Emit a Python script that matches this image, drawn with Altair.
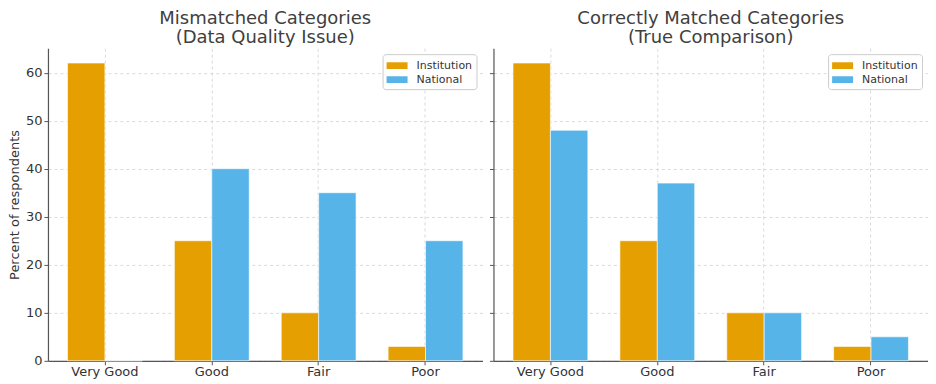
import altair as alt
import pandas as pd

categories = ["Very Good", "Good", "Fair", "Poor"]
series = ["Institution", "National"]
mismatched_institution = [62, 25, 10, 3]
mismatched_national = [0, 40, 35, 25]
matched_institution = [62, 25, 10, 3]
matched_national = [48, 37, 10, 5]

def make_df(inst, nat):
    rows = []
    for c, a, b in zip(categories, inst, nat):
        rows.append({"category": c, "series": "Institution", "value": a})
        rows.append({"category": c, "series": "National", "value": b})
    return pd.DataFrame(rows)

df_left = make_df(mismatched_institution, mismatched_national)
df_right = make_df(matched_institution, matched_national)

FONT = "DejaVu Sans"
TXT = "#333333"
color_scale = alt.Scale(domain=series, range=["#E69F00", "#56B4E9"])

def panel(df, title, show_labels):
    y_axis = alt.Axis(
        values=[0, 10, 20, 30, 40, 50, 60],
        title="Percent of respondents" if show_labels else None,
        labels=show_labels,
        grid=True, gridDash=[3, 3], gridColor="#d0d0d0", gridWidth=0.8,
        domainColor="#555555", domainWidth=1.2,
        tickColor="#555555", tickSize=4,
        labelFont=FONT, labelFontSize=13, labelColor=TXT, labelPadding=2,
        titleFont=FONT, titleFontSize=13, titleFontWeight="normal", titleColor=TXT,
        titlePadding=4,
    )
    x_axis = alt.Axis(
        title=None, labelAngle=0, bandPosition=0.5,
        grid=True, gridDash=[3, 3], gridColor="#d0d0d0", gridWidth=0.8,
        domainColor="#555555", domainWidth=1.2,
        tickColor="#555555", tickSize=4,
        labelFont=FONT, labelFontSize=13, labelColor=TXT, labelPadding=1,
    )
    return alt.Chart(df).mark_bar(stroke="white", strokeWidth=0.6).encode(
        x=alt.X("category:N", sort=categories, axis=x_axis,
                scale=alt.Scale(paddingInner=0.3, paddingOuter=0.183)),
        xOffset=alt.XOffset("series:N", sort=series, scale=alt.Scale(paddingInner=0, paddingOuter=0)),
        y=alt.Y("value:Q", axis=y_axis, scale=alt.Scale(domain=[0, 65.1], nice=False)),
        color=alt.Color("series:N", scale=color_scale, sort=series,
                        legend=alt.Legend(
                            title=None, orient="top-right", offset=6,
                            symbolType="M-1,-0.45L1.8,-0.45L1.8,0.45L-1,0.45Z",
                            symbolSize=225, symbolStrokeWidth=0,
                            labelFont=FONT, labelFontSize=11, labelColor=TXT,
                            strokeColor="#cccccc", fillColor="white",
                            cornerRadius=3, padding=4, rowPadding=1,
                            labelOffset=15,
                        )),
    ).properties(
        width=435, height=313,
        title=alt.TitleParams(text=title, font=FONT, fontSize=18, fontWeight="normal",
                              color="#404040", lineHeight=19, offset=1, anchor="middle"),
    )

left = panel(df_left, ["Mismatched Categories", "(Data Quality Issue)"], True)
right = panel(df_right, ["Correctly Matched Categories", "(True Comparison)"], False)

chart = alt.hconcat(left, right, spacing=6).resolve_legend(
    color="independent"
).resolve_scale(color="independent").configure(
    background="white", padding={"top": 2, "left": 0, "right": 0, "bottom": 0}
).configure_view(stroke="transparent", strokeWidth=0)

chart.save("out.html", embed_options={"renderer": "svg", "actions": False})
